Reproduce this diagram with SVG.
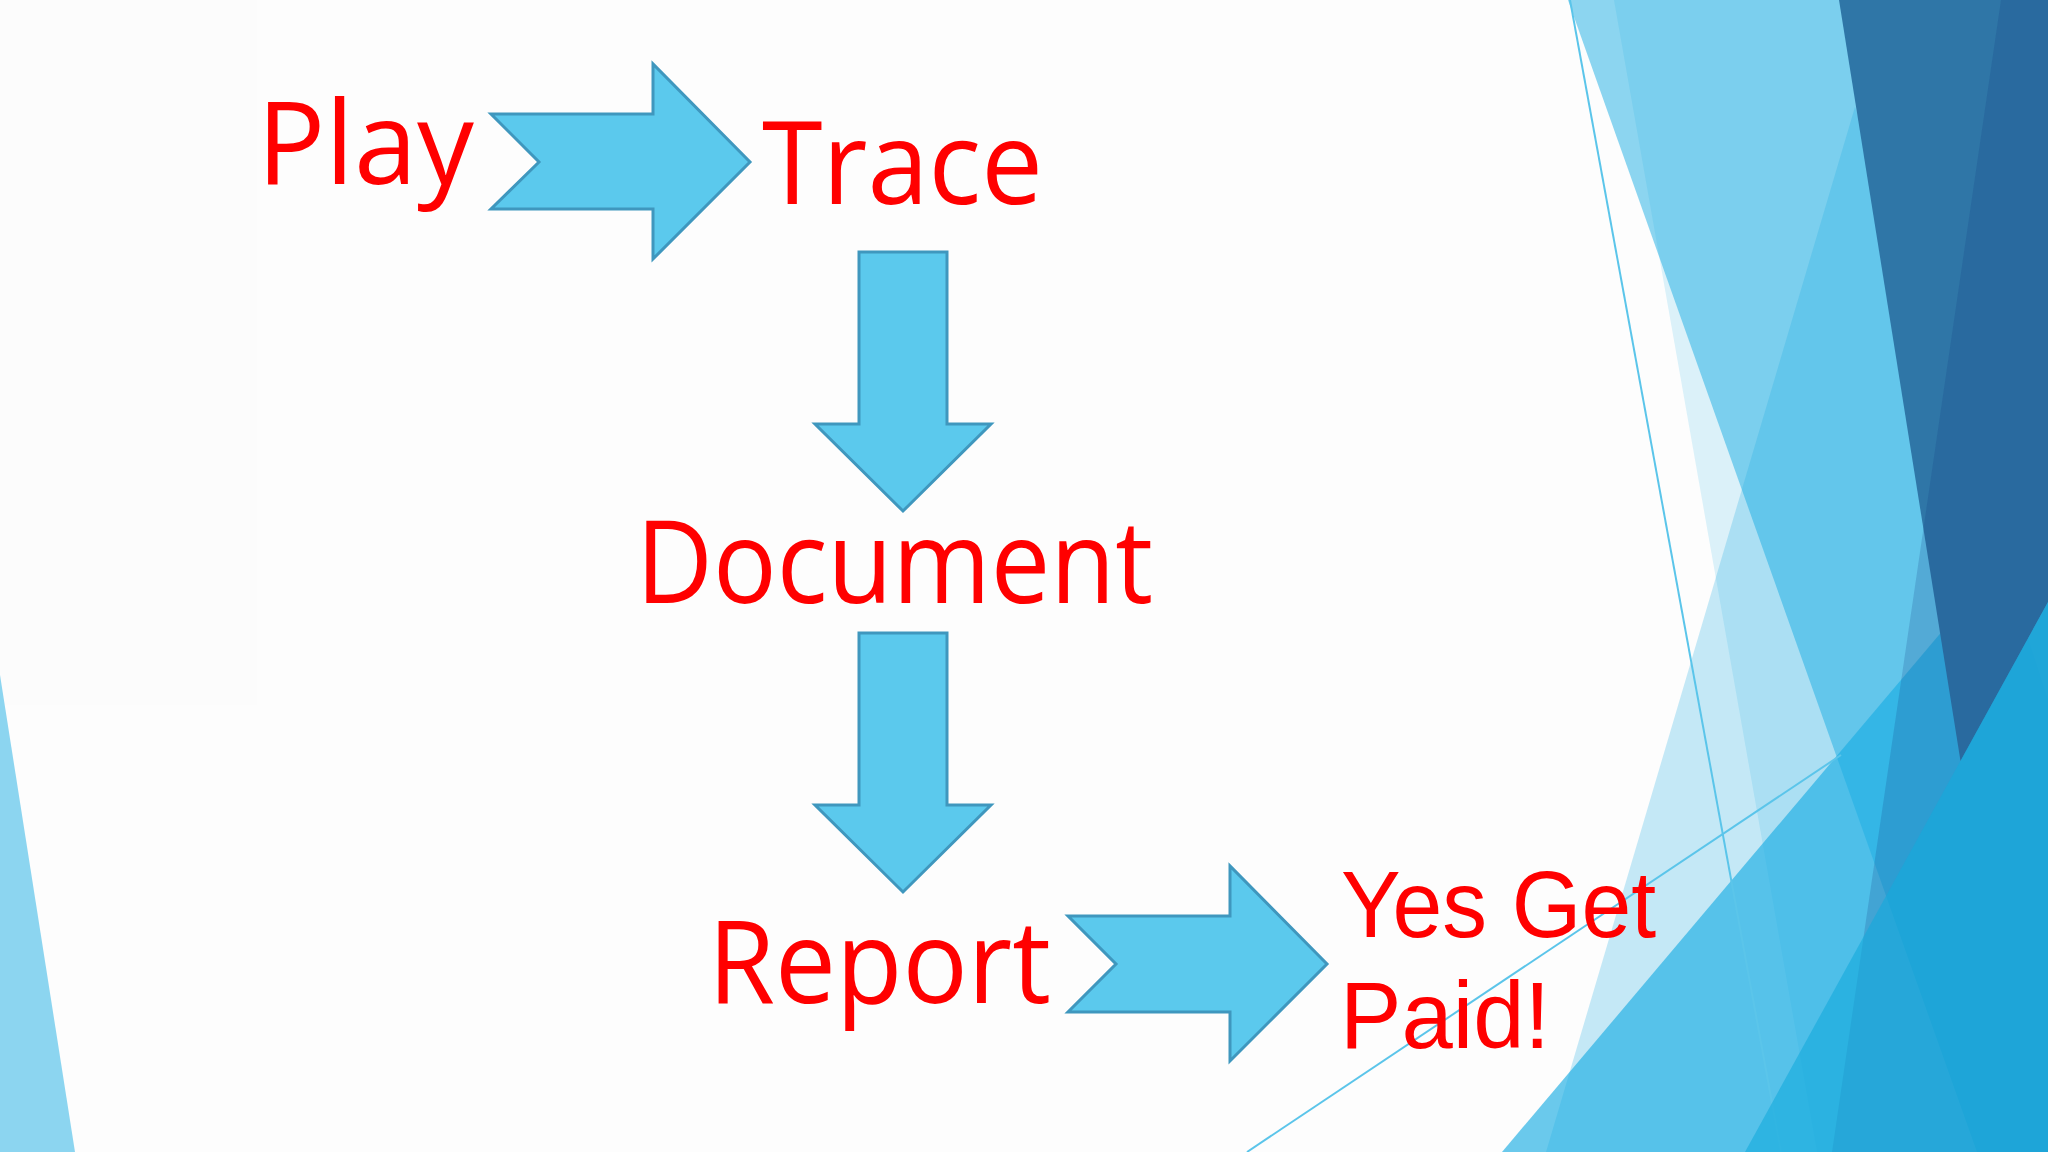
<svg xmlns="http://www.w3.org/2000/svg" width="2048" height="1152" viewBox="0 0 2048 1152">
<style>
.lbl{font-family:"Open Sans","Noto Sans","Liberation Sans",sans-serif;fill:#FF0000;}
.big{font-size:115px;}
.small{font-family:"Liberation Sans","Open Sans",sans-serif;font-size:94px;}
.arrow{fill:#5BC9ED;stroke:#3F97BE;stroke-width:3;stroke-linejoin:miter;}
.c{fill:#1CADE4;}
.thin{stroke:#5BC5EA;stroke-width:2;fill:none;}
</style>
<g id="background">
<rect x="0" y="0" width="2048" height="1152" fill="#FDFDFD"/>
<rect x="0" y="0" width="257" height="705" fill="#FCFCFC"/>
<polygon class="c" fill-opacity="0.5" points="0,675 75,1152 0,1152"/>
<polygon class="c" fill-opacity="0.5" points="1568,0 2048,0 2048,1152 1977,1152"/>
<polygon class="c" fill-opacity="0.15" points="1614,0 2048,0 2048,1152 1817,1152"/>
<polygon class="c" fill-opacity="0.25" points="1855,107 2048,700 2048,1152 1546,1152"/>
<polygon class="c" fill-opacity="0.65" points="1502,1152 2048,506 2048,1152"/>
<line class="thin" x1="1570" y1="0" x2="1781" y2="1152"/>
<line class="thin" x1="1247" y1="1152" x2="1841" y2="755"/>
<polygon fill="#2F76A7" points="1839,0 2048,0 2048,602 1960.5,761"/>
<polygon fill="rgb(20,60,130)" fill-opacity="0.2" points="2001,0 2048,0 2048,1152 1832,1152"/>
<polygon fill="rgb(20,170,220)" fill-opacity="0.6" points="2048,602 2048,1152 1745,1152"/>
</g>
<g id="connectors">
<polygon id="arrow-play-trace" class="arrow" points="491,114 653,114 653,64 750,162 653,259 653,209 491,209 539,162"/>
<polygon id="arrow-trace-document" class="arrow" points="859,252 947,252 947,424 991,424 903,511 815,424 859,424"/>
<polygon id="arrow-document-report" class="arrow" points="859,633 947,633 947,805 991,805 903,892 815,805 859,805"/>
<polygon id="arrow-report-paid" class="arrow" points="1068,916 1230,916 1230,866 1327,964 1230,1061 1230,1012 1068,1012 1116,964"/>
</g>
<g id="node-play"><text class="lbl big" x="257" y="184" textLength="217" lengthAdjust="spacingAndGlyphs">Play</text></g>
<g id="node-trace"><text class="lbl big" x="762" y="204" textLength="281" lengthAdjust="spacingAndGlyphs">Trace</text></g>
<g id="node-document"><text class="lbl big" x="636" y="603" textLength="517" lengthAdjust="spacingAndGlyphs">Document</text></g>
<g id="node-report"><text class="lbl big" x="708" y="1003" textLength="343" lengthAdjust="spacingAndGlyphs">Report</text></g>
<g id="node-paid">
<text class="lbl small"><tspan x="1341" y="937" textLength="315" lengthAdjust="spacingAndGlyphs">Yes Get</tspan><tspan x="1340" y="1048" textLength="210" lengthAdjust="spacingAndGlyphs">Paid!</tspan></text>
</g>
</svg>
